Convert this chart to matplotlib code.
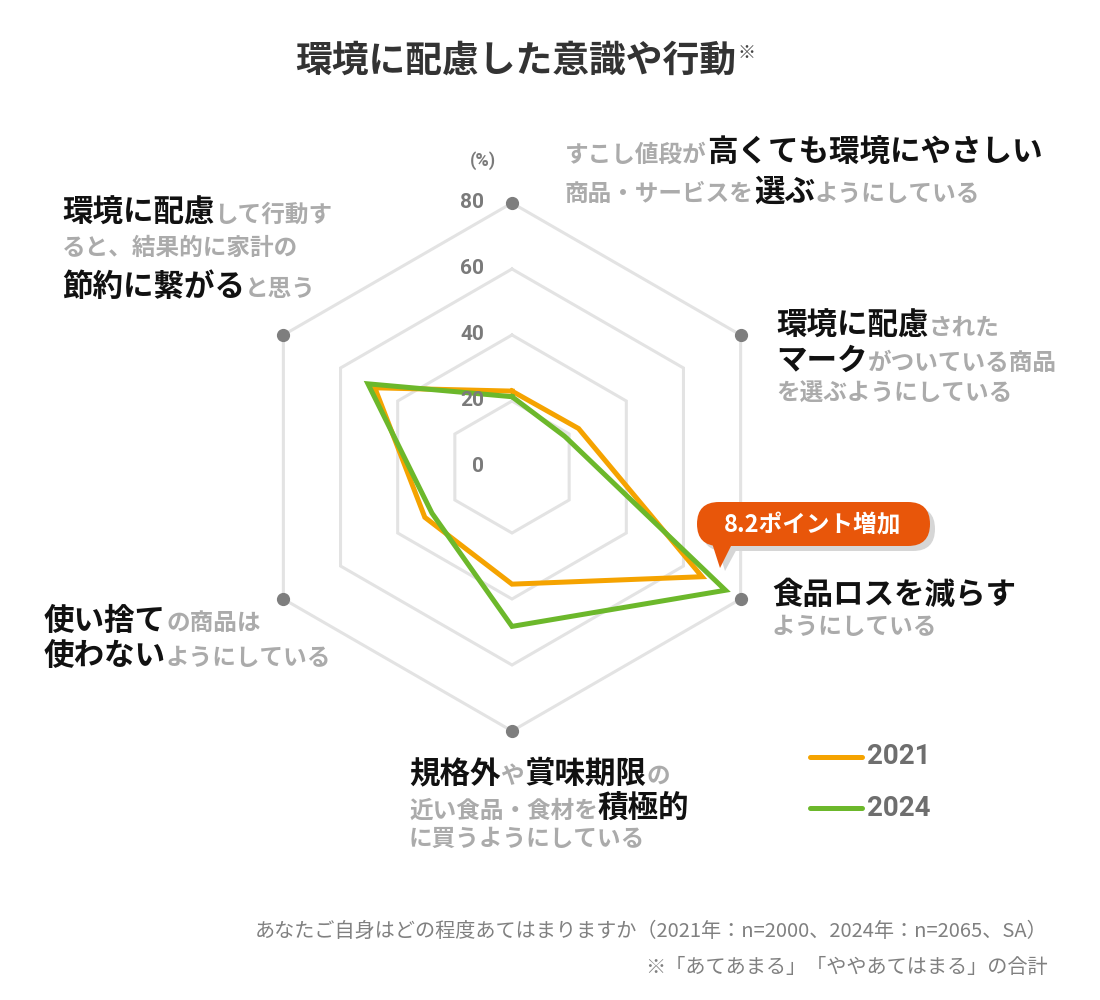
import numpy as np
import matplotlib
matplotlib.use('Agg')
import matplotlib.pyplot as plt
from matplotlib.patches import FancyBboxPatch, Polygon

plt.rcParams['font.family'] = ['Noto Sans CJK JP', 'DejaVu Sans']

# axes clockwise from the top
categories = ['高くても環境にやさしい商品・サービスを選ぶ', '環境に配慮されたマーク', '食品ロスを減らす',
              '規格外や賞味期限の近い食品・食材を積極的に買う', '使い捨ての商品は使わない',
              '環境に配慮して行動すると節約に繋がる']
values_2021 = [23.0, 23.3, 66.5, 35.5, 30.5, 48.0]
values_2024 = [21.3, 18.5, 74.7, 48.3, 28.0, 50.4]
ring_values = [20, 40, 60, 80]
tick_labels = ['0', '20', '40', '60', '80']
years = ['2021', '2024']
colors = ['#F5A300', '#6CB82B']

BLACK = dict(size=22, weight='bold', color='#111111')
GRAY = dict(size=17, weight='bold', color='#ABABAB')

fig = plt.figure(figsize=(11, 10), dpi=100)

# radar (polar axes), centre at (512, 467) px, radius 264 px
cx, cy, R = 512, 467, 264
ax = fig.add_axes([(cx - R) / 1100, 1 - (cy + R) / 1000, 2 * R / 1100, 2 * R / 1000], projection='polar')
ax.set_theta_offset(np.pi / 2)
ax.set_theta_direction(-1)
ax.set_ylim(0, 80)
ax.grid(False)
ax.spines['polar'].set_visible(False)
ax.set_xticks([])
ax.set_yticks([])
ax.patch.set_alpha(0)

n = len(categories)
angles = [2 * np.pi * i / n for i in range(n)]
closed = angles + angles[:1]

for v in ring_values:
    ax.plot(closed, [v] * (n + 1), color='#E3E3E3', lw=2.2, zorder=1, solid_joinstyle='miter')
ax.plot(angles, [80] * n, 'o', color='#7E7E7E', ms=8.5, zorder=2, clip_on=False)

for vals, c in zip([values_2021, values_2024], colors):
    ax.plot(closed, vals + vals[:1], color=c, lw=3.6, zorder=3, solid_joinstyle='miter', clip_on=False)

for lab in tick_labels:
    ax.annotate(lab, xy=(0, float(lab)), xycoords='data', xytext=(-28, 0), textcoords='offset pixels',
                ha='right', va='center', fontsize=15, fontweight='bold', color='#7A7A7A', family='Roboto')
ax.annotate('(%)', xy=(0, 80), xycoords='data', xytext=(-16, 42), textcoords='offset pixels',
            ha='right', va='center', fontsize=13, fontweight='bold', color='#7A7A7A', family='Roboto')

# overlay in pixel coordinates for texts
ov = fig.add_axes([0, 0, 1, 1], zorder=5)
ov.set_xlim(0, 1100)
ov.set_ylim(1000, 0)
ov.axis('off')
ov.patch.set_alpha(0)

renderer = fig.canvas.get_renderer()


def rich(x, y, parts):
    for s, style in parts:
        t = ov.text(x, y, s, ha='left', va='baseline', **style)
        x += t.get_window_extent(renderer).width


# title
t = ov.text(295, 72, '環境に配慮した意識や行動', ha='left', va='baseline', fontsize=26.5,
            fontweight='bold', color='#333333')
x_end = 295 + t.get_window_extent(renderer).width
ov.text(x_end + 2, 58, '※', ha='left', va='baseline', fontsize=13, color='#444444')

# top
rich(565, 162, [('すこし値段が', GRAY), ('高くても環境にやさしい', BLACK)])
rich(565, 201, [('商品・サービスを', GRAY), ('選ぶ', BLACK), ('ようにしている', GRAY)])
# upper right
rich(776, 335, [('環境に配慮', BLACK), ('された', GRAY)])
rich(776, 370, [('マーク', BLACK), ('がついている商品', GRAY)])
rich(776, 400, [('を選ぶようにしている', GRAY)])
# lower right
rich(772, 604, [('食品ロスを減らす', BLACK)])
rich(772, 634, [('ようにしている', GRAY)])
# bottom
rich(409, 783, [('規格外', BLACK), ('や', GRAY), ('賞味期限', BLACK), ('の', GRAY)])
rich(409, 818, [('近い食品・食材を', GRAY), ('積極的', BLACK)])
rich(409, 846, [('に買うようにしている', GRAY)])
# lower left
rich(44, 630, [('使い捨て', BLACK), ('の商品は', GRAY)])
rich(44, 665, [('使わない', BLACK), ('ようにしている', GRAY)])
# upper left
rich(62, 222, [('環境に配慮', BLACK), ('して行動す', GRAY)])
rich(62, 255, [('ると、結果的に家計の', GRAY)])
rich(62, 296, [('節約に繋がる', BLACK), ('と思う', GRAY)])

# callout
ov.add_patch(FancyBboxPatch((702, 507), 233, 44, boxstyle='round,pad=0,rounding_size=22',
                            fc='#D6D6D6', ec='none', zorder=1))
ov.add_patch(Polygon([(717, 545), (739, 545), (725, 571)], closed=True, fc='#D6D6D6', ec='none', zorder=1))
ov.add_patch(FancyBboxPatch((697, 502), 233, 44, boxstyle='round,pad=0,rounding_size=22',
                            fc='#E8560A', ec='none', zorder=2))
ov.add_patch(Polygon([(711, 540), (734, 540), (720, 568)], closed=True, fc='#E8560A', ec='none', zorder=2))
ov.text(813, 524, '8.2ポイント増加', ha='center', va='center', fontsize=17, fontweight='bold',
        color='white', zorder=3)

# legend
for i, (yr, c) in enumerate(zip(years, colors)):
    y = 757 + 51 * i
    ov.plot([810, 862], [y, y], color=c, lw=3.6, solid_capstyle='round')
    ov.text(867, y, yr, ha='left', va='center', fontsize=20, fontweight='bold', color='#6E6E6E', family='Roboto')

# footer
ov.text(1048, 937, 'あなたご自身はどの程度あてはまりますか（2021年：n=2000、2024年：n=2065、SA）',
        ha='right', va='baseline', fontsize=14.5, color='#808080')
ov.text(1048, 973, '※「あてあまる」「ややあてはまる」の合計',
        ha='right', va='baseline', fontsize=14.5, color='#808080')

fig.savefig('out.png', dpi=100)
